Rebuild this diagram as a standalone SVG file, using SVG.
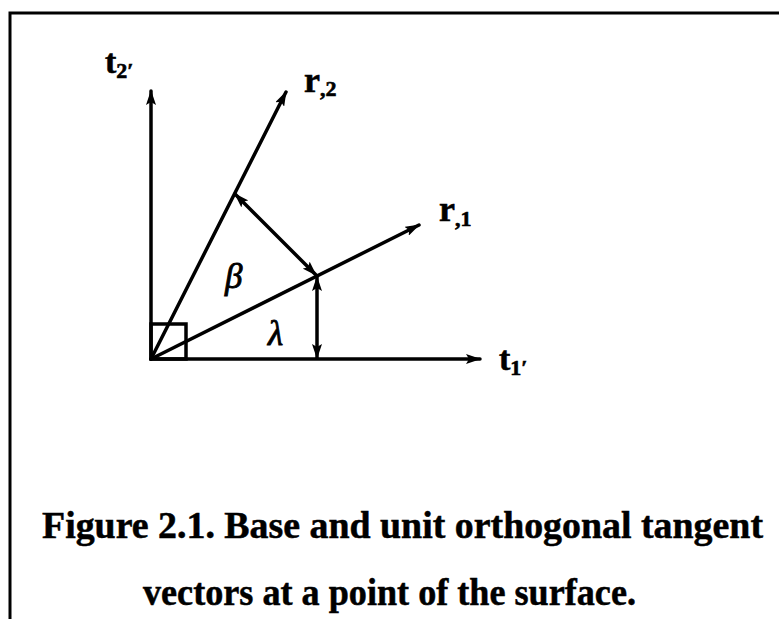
<svg xmlns="http://www.w3.org/2000/svg" width="779" height="619" viewBox="0 0 779 619">
<style>
.ln{stroke:#000;stroke-width:3.5;fill:none;stroke-linecap:round}
.bd{stroke:#000;stroke-width:3;fill:none}
.lbl{font-family:"Liberation Serif",serif;font-weight:bold;fill:#000;stroke:#000;stroke-width:0.6}
.gr{font-family:"Liberation Serif",serif;font-style:italic;fill:#000;stroke:#000;stroke-width:0.9}
.cap{font-family:"Liberation Serif",serif;font-weight:bold;font-size:38px;fill:#000;stroke:#000;stroke-width:0.5}
</style>
<defs>
<marker id="ah" markerUnits="userSpaceOnUse" viewBox="0 0 15 10" refX="14" refY="5" markerWidth="15" markerHeight="10" orient="auto-start-reverse">
<path d="M0,0 L15,5 L0,10 L3,5 z" fill="#000"/>
</marker>
</defs>
<rect width="779" height="619" fill="#fff"/>
<g id="frame">
<path class="bd" d="M10,619 L10,13 L779,13"/>
</g>
<g id="connectors">
<line class="ln" x1="151" y1="359" x2="151" y2="91" marker-end="url(#ah)"/>
<line class="ln" x1="151" y1="359" x2="480" y2="359" marker-end="url(#ah)"/>
<line class="ln" x1="151" y1="359" x2="286" y2="92" marker-end="url(#ah)"/>
<line class="ln" x1="151" y1="359" x2="419" y2="225" marker-end="url(#ah)"/>
<line class="ln" x1="235" y1="194" x2="316" y2="275" marker-start="url(#ah)" marker-end="url(#ah)"/>
<line class="ln" x1="317" y1="277" x2="317" y2="358" marker-start="url(#ah)" marker-end="url(#ah)"/>
<rect class="ln" x="151" y="324" width="35" height="35" stroke-width="3"/>
</g>
<g id="t2">
<text class="lbl" x="105" y="73" font-size="34">t<tspan font-size="22" dy="5">2′</tspan></text>
</g>
<g id="r2">
<text class="lbl" x="304" y="92" font-size="36">r<tspan font-size="22" dy="4">,2</tspan></text>
</g>
<g id="r1">
<text class="lbl" x="439" y="221" font-size="36">r<tspan font-size="22" dy="5">,1</tspan></text>
</g>
<g id="t1">
<text class="lbl" x="499" y="370" font-size="34">t<tspan font-size="22" dy="5">1′</tspan></text>
</g>
<g id="beta">
<text class="gr" x="225" y="288" font-size="35">β</text>
</g>
<g id="lambda">
<text class="gr" x="268" y="345" font-size="35">λ</text>
</g>
<g id="caption">
<text class="cap" x="42" y="538" textLength="721" lengthAdjust="spacingAndGlyphs">Figure 2.1. Base and unit orthogonal tangent</text>
<text class="cap" x="143" y="605" textLength="493" lengthAdjust="spacingAndGlyphs">vectors at a point of the surface.</text>
</g>
</svg>
